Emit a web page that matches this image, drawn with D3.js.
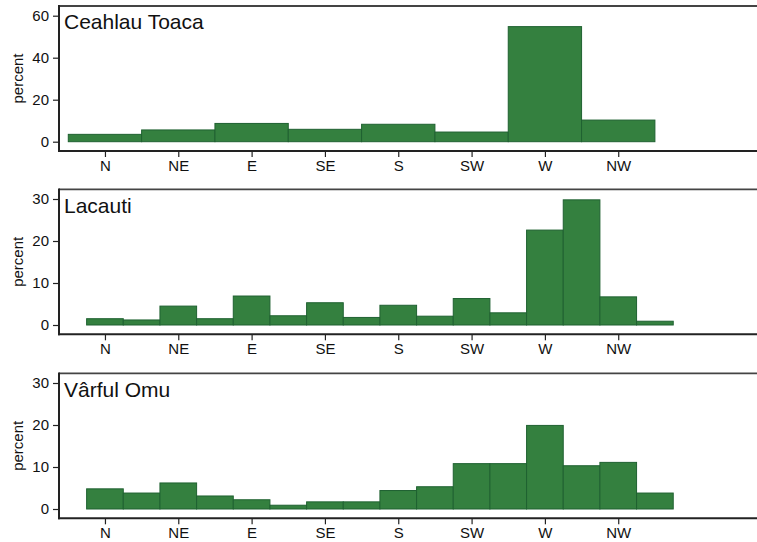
<!DOCTYPE html>
<html>
<head>
<meta charset="utf-8">
<script src="https://cdn.jsdelivr.net/npm/d3@7"></script>
<style>
  body { margin: 0; background: #fff; }
  svg { display: block; font-family: Helvetica, Arial, "Liberation Sans", sans-serif; }
</style>
</head>
<body>
<svg id="chart" width="757" height="542"></svg>
<script>
// Wind direction frequency (percent) per station
const stations = ["Ceahlau Toaca", "Lacauti", "Vârful Omu"];
const directionLabels = ["N", "NE", "E", "SE", "S", "SW", "W", "NW"];
const directionDegrees = [0, 45, 90, 135, 180, 225, 270, 315];

// bin width in degrees for each station's histogram
const binWidths = [45, 22.5, 22.5];

const ceahlauToaca = [3.5, 5.6, 8.7, 5.9, 8.3, 4.6, 54.8, 10.3];
const lacauti = [1.5, 1.2, 4.5, 1.5, 6.9, 2.2, 5.3, 1.8, 4.7, 2.1, 6.3, 2.9, 22.6, 29.8, 6.7, 0.9];
const varfulOmu = [4.8, 3.8, 6.2, 3.1, 2.2, 0.9, 1.7, 1.7, 4.4, 5.3, 10.8, 10.8, 19.9, 10.3, 11.1, 3.8];

const yMaxima = [60, 30, 30];
const yTicksCeahlau = [0, 20, 40, 60];
const yTicksOther = [0, 10, 20, 30];

const seriesList = [ceahlauToaca, lacauti, varfulOmu];
const tickList = [yTicksCeahlau, yTicksOther, yTicksOther];

// layout
const panelTops = [6, 189.3, 373.3];
const panelHeight = 145;
const innerPadTop = 9.7, innerPadBottom = 9.3;
const left = 59, rightEdge = 760;

const svg = d3.select("#chart");

const x = d3.scaleLinear().domain([-28.2, 402]).range([left, rightEdge]);

const fillColor = "#34803f";
const strokeColor = "#1f6131";
const axisColor = "#222";
const labelFont = "Helvetica, Arial, 'Liberation Sans', sans-serif";

seriesList.forEach((values, p) => {
  const top = panelTops[p];
  const bottom = top + panelHeight;
  const y = d3.scaleLinear()
    .domain([0, yMaxima[p]])
    .range([bottom - innerPadBottom, top + innerPadTop]);

  const g = svg.append("g");
  const w = binWidths[p];
  const start = -w / 2;

  // histogram bars
  g.selectAll("rect.bar")
    .data(values)
    .join("rect")
    .attr("class", "bar")
    .attr("x", (d, i) => x(start + i * w))
    .attr("width", (d, i) => x(start + (i + 1) * w) - x(start + i * w))
    .attr("y", d => y(d))
    .attr("height", d => y(0) - y(d))
    .attr("fill", fillColor)
    .attr("stroke", strokeColor)
    .attr("stroke-width", 1);

  // y axis
  const yAxis = d3.axisLeft(y)
    .tickValues(tickList[p])
    .tickSize(6)
    .tickPadding(4);
  const ya = g.append("g")
    .attr("transform", `translate(${left},0)`)
    .call(yAxis);
  ya.select(".domain").remove();
  ya.selectAll(".tick line").attr("stroke", axisColor).attr("stroke-width", 1.2);
  ya.selectAll(".tick text")
    .attr("fill", "#111")
    .style("font-size", "15px")
    .style("font-family", labelFont);

  // x axis
  const xAxis = d3.axisBottom(x)
    .tickValues(directionDegrees)
    .tickFormat((d, i) => directionLabels[i])
    .tickSize(6)
    .tickPadding(3);
  const xa = g.append("g")
    .attr("transform", `translate(0,${bottom})`)
    .call(xAxis);
  xa.select(".domain").remove();
  xa.selectAll(".tick line").attr("stroke", axisColor).attr("stroke-width", 1.2);
  xa.selectAll(".tick text")
    .attr("fill", "#111")
    .style("font-size", "15px")
    .style("font-family", labelFont);

  // frame: top, left, bottom
  g.append("line")
    .attr("x1", left).attr("x2", rightEdge)
    .attr("y1", top).attr("y2", top)
    .attr("stroke", "#444").attr("stroke-width", 1.8);
  g.append("line")
    .attr("x1", left).attr("x2", left)
    .attr("y1", top - 0.9).attr("y2", bottom + 1)
    .attr("stroke", axisColor).attr("stroke-width", 2);
  g.append("line")
    .attr("x1", left - 1).attr("x2", rightEdge)
    .attr("y1", bottom).attr("y2", bottom)
    .attr("stroke", axisColor).attr("stroke-width", 2);

  // station title
  g.append("text")
    .attr("x", 64)
    .attr("y", top + 23.3)
    .attr("fill", "#111")
    .style("font-size", "21px")
    .text(stations[p]);

  // y axis title
  g.append("text")
    .attr("transform", `translate(18,${(top + bottom) / 2}) rotate(-90)`)
    .attr("text-anchor", "middle")
    .attr("dy", "0.35em")
    .attr("fill", "#111")
    .style("font-size", "15px")
    .text("percent");
});
</script>
</body>
</html>
